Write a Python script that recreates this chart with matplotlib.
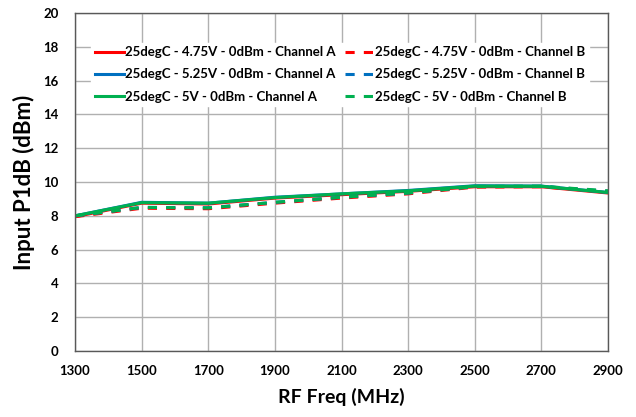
import matplotlib.pyplot as plt

freq = [1300, 1500, 1700, 1900, 2100, 2300, 2500, 2700, 2900]

a_475 = [7.95, 8.75, 8.70, 9.05, 9.25, 9.45, 9.72, 9.72, 9.35]
b_475 = [7.95, 8.45, 8.42, 8.75, 9.05, 9.30, 9.70, 9.72, 9.42]
a_525 = [8.00, 8.80, 8.75, 9.10, 9.30, 9.50, 9.78, 9.76, 9.38]
b_525 = [8.00, 8.50, 8.48, 8.80, 9.10, 9.35, 9.74, 9.75, 9.45]
a_500 = [8.00, 8.78, 8.75, 9.08, 9.30, 9.48, 9.76, 9.75, 9.38]
b_500 = [8.00, 8.50, 8.47, 8.80, 9.10, 9.35, 9.73, 9.75, 9.48]

plt.rcParams['font.family'] = ['Lato', 'DejaVu Sans']
plt.rcParams['font.weight'] = 'bold'

fig = plt.figure(figsize=(6.36, 4.17), dpi=100)
ax = fig.add_axes([0.118, 0.158, 0.838, 0.811])

red, blue, green = '#FF0000', '#0070C0', '#00B050'
# column A first, then column B, so the legend reads like the original
series = [
    (a_475, red, '-', '25degC - 4.75V - 0dBm - Channel A', 2.0),
    (a_525, blue, '-', '25degC - 5.25V - 0dBm - Channel A', 2.2),
    (a_500, green, '-', '25degC - 5V - 0dBm - Channel A', 2.4),
    (b_475, red, '--', '25degC - 4.75V - 0dBm - Channel B', 2.05),
    (b_525, blue, '--', '25degC - 5.25V - 0dBm - Channel B', 2.25),
    (b_500, green, '--', '25degC - 5V - 0dBm - Channel B', 2.45),
]
for vals, c, ls, lab, z in series:
    ln, = ax.plot(freq, vals, color=c, linestyle=ls, linewidth=2.2, label=lab, zorder=z)
    if ls == '--':
        ln.set_dashes((3, 3))

ax.set_xlim(1300, 2900)
ax.set_ylim(0, 20)
ax.set_xticks(freq)
ax.set_yticks(range(0, 21, 2))
ax.tick_params(length=0, labelsize=9.5)
ax.tick_params(axis='y', pad=12)
ax.tick_params(axis='x', pad=10)
ax.grid(True, color='#B0B0B0', linewidth=1)
ax.set_axisbelow(True)
for s in ax.spines.values():
    s.set_color('#595959')
    s.set_linewidth(1)

ax.set_xlabel('RF Freq (MHz)', fontsize=14, fontweight='bold', labelpad=8)
ax.set_ylabel('Input P1dB (dBm)', fontsize=16, fontweight='bold', labelpad=6)

leg = ax.legend(loc='center', bbox_to_anchor=(0.497, 0.818), ncol=2,
                fontsize=9.5, frameon=True, fancybox=False, edgecolor='white',
                framealpha=1, handlelength=2.2, handletextpad=0.1,
                columnspacing=0.7, labelspacing=0.78, borderpad=0.25)

fig.savefig('out.png', dpi=100)
